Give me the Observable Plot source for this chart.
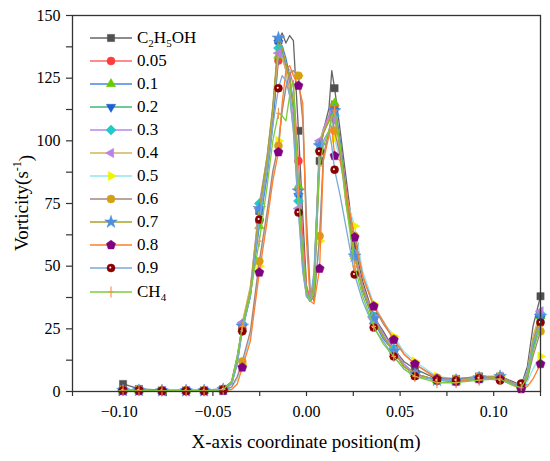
<!DOCTYPE html>
<html><head><meta charset="utf-8">
<script src="https://cdn.jsdelivr.net/npm/d3@7"></script>
<script src="https://cdn.jsdelivr.net/npm/@observablehq/plot@0.6"></script>
<style>
body{margin:0;background:#fff;}
#wrap{position:relative;width:550px;height:461px;font-family:"Liberation Serif","Times New Roman",serif;}
#wrap svg, #wrap svg text{font-family:"Liberation Serif","Times New Roman",serif !important;}
#legend{position:absolute;left:90px;top:26px;}
.row{display:flex;align-items:center;height:23.1px;font-size:17px;color:#000;white-space:nowrap;}
.row svg{margin-right:5px;display:block;}
.row sub{font-size:11px;vertical-align:-4px;line-height:0;}
</style>
</head><body><div id="wrap"><div id="legend"></div></div>
<script>
// shared x grid (m)
const xPos = [-0.100,-0.098,-0.0895,-0.0772,-0.0643,-0.0547,-0.0445,-0.040,-0.037,-0.0343,-0.030,-0.0252,-0.021,-0.018,-0.015,-0.013,-0.011,-0.009,-0.007,-0.0043,-0.002,0.000,0.002,0.004,0.007,0.009,0.012,0.0135,0.015,0.018,0.021,0.0257,0.030,0.0359,0.041,0.0466,0.052,0.0579,0.0697,0.0799,0.0922,0.1034,0.110,0.1147,0.118,0.121,0.125];
// x positions that carry a symbol
const markerX = [-0.098,-0.0895,-0.0772,-0.0643,-0.0547,-0.0445,-0.0343,-0.0252,-0.015,-0.0043,0.007,0.015,0.0257,0.0359,0.0466,0.0579,0.0697,0.0799,0.0922,0.1034,0.1147,0.125];

const vC2H5OH = [0.5,3,1,0.5,0.5,0.5,1, 4,14,26,40,72,92,112,140,143,139, 142,140,104,70,42,36,38,92,104,113, 128,121,104,86,58,44,30,24,17,12, 9,5,5,6,6,4,2.5,10,26,38];
const v005 = [0.3,0.5,0.5,0.3,0.3,0.3,0.8, 3,12,25,38,68,88,108,132,136,130, 128,122,92,62,42,37,40,96,104,110, 116,114,100,82,55,42,29,22,16,11, 7,4.5,4,5,5.5,3.5,2,6,18,30];
const v01 = [0.3,0.4,0.4,0.3,0.3,0.3,0.8, 3,11,25,38,66,86,106,134,138,133, 126,115,82,55,40,36,42,97,103,108, 112,115,100,80,54,40,28,21,16,10, 7,4.5,4,5,5.5,3,2,6,17,30];
const v02 = [0.3,0.4,0.4,0.3,0.3,0.3,0.8, 3,12,26,40,72,92,112,139,136,130, 124,112,78,52,39,36,44,98,104,108, 112,112,98,78,54,41,29,22,16,10, 7,4.5,4,5,5.5,3,2,5,16,29];
const v03 = [0.3,0.4,0.4,0.3,0.3,0.3,0.8, 3,12,27,41,75,94,113,137,134,128, 120,108,76,50,38,36,45,99,105,110, 113,110,96,76,55,42,30,23,17,11, 7,4.5,4.5,5.5,6,3,2,7,20,31];
const v04 = [0.3,0.4,0.4,0.3,0.3,0.3,0.8, 3,12,27.5,42,73,93,112,135,133,128, 118,104,73,48,38,36,46,100,104,108, 110,108,95,75,54,41,29,22,16,10, 7,4.5,4.5,5.5,6,3,2,8,22,32];
const v05 = [0.3,0.4,0.4,0.3,0.3,0.3,0.5, 1.5,5,11,22,50,70,86,100,112,122, 128,127,126,110,70,40,36,60,92,104, 108,101,92,78,66,48,35,28,22,16, 12,6,5,5.5,6,3.5,1.5,4,9,14];
const v06 = [0.3,0.4,0.4,0.3,0.3,0.3,0.5, 1.8,6,12,24,52,72,88,98,112,121, 127,128,126,108,68,40,36,62,94,104, 110,104,94,78,62,46,34,27,21,15, 11,5.5,5,5.5,6,3.5,1.5,5,14,24];
const v07 = [0.3,0.4,0.4,0.3,0.3,0.3,0.8, 3.5,13,26,40,73,94,114,141,137,131, 125,114,80,52,39,36,43,98,103,108, 111,112,97,78,54,41,29,22,16,10, 7,4.5,4.5,5.5,6,3,2,7,20,30];
const v08 = [0.2,0.3,0.3,0.2,0.2,0.2,0.3, 0.8,3,9.6,20,47.5,68,84,95.5,115,128, 130,126,122,115,60,36,35,49,92,102, 106,94,92,80,61.5,46,34,28,20.6,15, 11,5,4,5,5,2.5,1,2,5,11];
const v09 = [0.3,0.5,0.5,0.3,0.3,0.3,0.8, 3,11,24,38,68.6,88,106,121,126,124, 118,104,71.4,48,38,36,48,95.7,100,104, 98,88.5,78,66,46.7,36,25.5,20,14,9, 6.1,4.4,4.4,5.3,4.4,3,3.2,8,19,27.5];
const vCH4 = [0.3,0.4,0.4,0.3,0.3,0.3,0.8, 4,14,26,39,60,82,100,111,110,108, 118,124,80,55,40,36,40,90,98,104, 110,112,98,76,50,38,26,19,14,9, 6,3.5,3.5,4.5,5,2.5,1.5,6,16,26];

const seriesNames = ["C2H5OH","0.05","0.1","0.2","0.3","0.4","0.5","0.6","0.7","0.8","0.9","CH4"];
const legendLabels = ["C<sub>2</sub>H<sub>5</sub>OH","0.05","0.1","0.2","0.3","0.4","0.5","0.6","0.7","0.8","0.9","CH<sub>4</sub>"];
const seriesValues = [vC2H5OH,v005,v01,v02,v03,v04,v05,v06,v07,v08,v09,vCH4];
const lineColors = ["#666666","#ff6464","#4a84e0","#3cb878","#b487ec","#d2b55a","#8ee4f0","#a88282","#a8a22c","#ff7f2a","#7aa9da","#7ccc3a"];
const markColors = ["#505050","#ff3c3c","#66cc00","#1e5fd6","#1fcaca","#b983e6","#f2f200","#d4a012","#4a8fe0","#800080","#8b0000","#f59040"];
const xTicks = [-0.125,-0.1,-0.075,-0.05,-0.025,0,0.025,0.05,0.075,0.1,0.125];
const xLabels = [-0.1,-0.05,0,0.05,0.1];
const yTicks = [0,12.5,25,37.5,50,62.5,75,87.5,100,112.5,125,137.5,150];
const yLabels = [0,25,50,75,100,125,150];

// symbol shapes
const rad = s => Math.sqrt(s / Math.PI);
function poly(pts) {
  return {draw(ctx, size) { const r = rad(size); pts.forEach(([a, b], i) => i ? ctx.lineTo(a * r, b * r) : ctx.moveTo(a * r, b * r)); ctx.closePath(); }};
}
function ngon(n, rot, k) {
  const p = [];
  for (let i = 0; i < n; i++) { const t = rot + 2 * Math.PI * i / n; p.push([k * Math.sin(t), -k * Math.cos(t)]); }
  return poly(p);
}
const symSquare = poly([[-0.9,-0.9],[0.9,-0.9],[0.9,0.9],[-0.9,0.9]]);
const symPlus = {draw(ctx, size) { const r = rad(size); ctx.moveTo(0, -1.4 * r); ctx.lineTo(0, 1.4 * r); ctx.moveTo(-0.6 * r, 0); ctx.lineTo(0.6 * r, 0); }};
const symbols = [symSquare, d3.symbolCircle, ngon(3, 0, 1.35), ngon(3, Math.PI, 1.35), ngon(4, 0, 1.25), ngon(3, -Math.PI / 2, 1.35),
  ngon(3, Math.PI / 2, 1.35), d3.symbolCircle, d3.symbolStar, ngon(5, 0, 1.2), d3.symbolCircle, symPlus];
const R = 4;

const marks = [];
seriesValues.forEach((vals, i) => {
  const rows = xPos.map((x, j) => ({x, y: vals[j], s: seriesNames[i]}));
  const mrows = rows.filter(d => markerX.includes(d.x));
  marks.push(Plot.line(rows, {x: "x", y: "y", stroke: lineColors[i], strokeWidth: 1.3, clip: true}));
  if (i === 11) {
    marks.push(Plot.dot(mrows, {x: "x", y: "y", symbol: symbols[i], r: R, fill: "none", stroke: markColors[i], strokeWidth: 1.1}));
  } else {
    marks.push(Plot.dot(mrows, {x: "x", y: "y", symbol: symbols[i], r: R, fill: markColors[i], stroke: markColors[i], strokeWidth: 0.5}));
    if (i === 10) marks.push(Plot.dot(mrows, {x: "x", y: "y", r: 1, fill: "white", dx: -0.7, dy: -0.5}));
  }
});

const serif = '"Liberation Serif", "Times New Roman", serif';
const fmt = d3.format(".2f");
const chart = Plot.plot({
  width: 550, height: 461,
  marginLeft: 72, marginRight: 10, marginTop: 15, marginBottom: 70,
  style: {fontFamily: serif, fontSize: "16px", color: "#000", background: "#fff"},
  x: {domain: [-0.125, 0.125], label: null},
  y: {domain: [0, 150], label: null},
  marks: [
    Plot.axisX(xTicks, {tickSize: 5, tickPadding: 9, stroke: "#333", strokeWidth: 1.2, fill: "#000", fontFamily: serif, fontSize: 16,
      tickFormat: d => xLabels.some(v => Math.abs(v - d) < 1e-9) ? fmt(d) : ""}),
    Plot.axisY(yTicks, {tickSize: 6, tickPadding: 6, stroke: "#333", strokeWidth: 1.2, fill: "#000", fontFamily: serif, fontSize: 16,
      tickFormat: d => yLabels.includes(d) ? String(d) : ""}),
    ...marks,
    Plot.frame({stroke: "#333", strokeWidth: 1.3})
  ]
});
document.getElementById("wrap").prepend(chart);

const svg = d3.select(chart);
svg.append("text").attr("x", 306).attr("y", 448).attr("text-anchor", "middle")
  .attr("font-size", 19).attr("fill", "#000").text("X-axis coordinate position(m)");
const yl = svg.append("text").attr("transform", "translate(28,203) rotate(-90)").attr("text-anchor", "middle")
  .attr("font-size", 19).attr("fill", "#000");
yl.append("tspan").text("Vorticity(s");
yl.append("tspan").attr("font-size", 12).attr("dy", "-0.55em").text("-1");
yl.append("tspan").attr("dy", "0.55em").text(")");
svg.selectAll("text, g").style("font-family", serif);

// legend
const leg = d3.select("#legend");
seriesNames.forEach((n, i) => {
  const row = leg.append("div").attr("class", "row");
  const s = row.append("svg").attr("width", 42).attr("height", 14);
  s.append("line").attr("x1", 0).attr("x2", 42).attr("y1", 7).attr("y2", 7).attr("stroke", lineColors[i]).attr("stroke-width", 1.5);
  const p = s.append("path").attr("transform", "translate(21,7)").attr("d", d3.symbol(symbols[i], Math.PI * R * R)());
  if (i === 11) p.attr("fill", "none").attr("stroke", markColors[i]).attr("stroke-width", 1.1);
  else p.attr("fill", markColors[i]).attr("stroke", markColors[i]).attr("stroke-width", 0.5);
  if (i === 10) s.append("circle").attr("cx", 20.3).attr("cy", 6.5).attr("r", 1).attr("fill", "white");
  row.append("span").html(legendLabels[i]);
});
</script>
</body></html>
